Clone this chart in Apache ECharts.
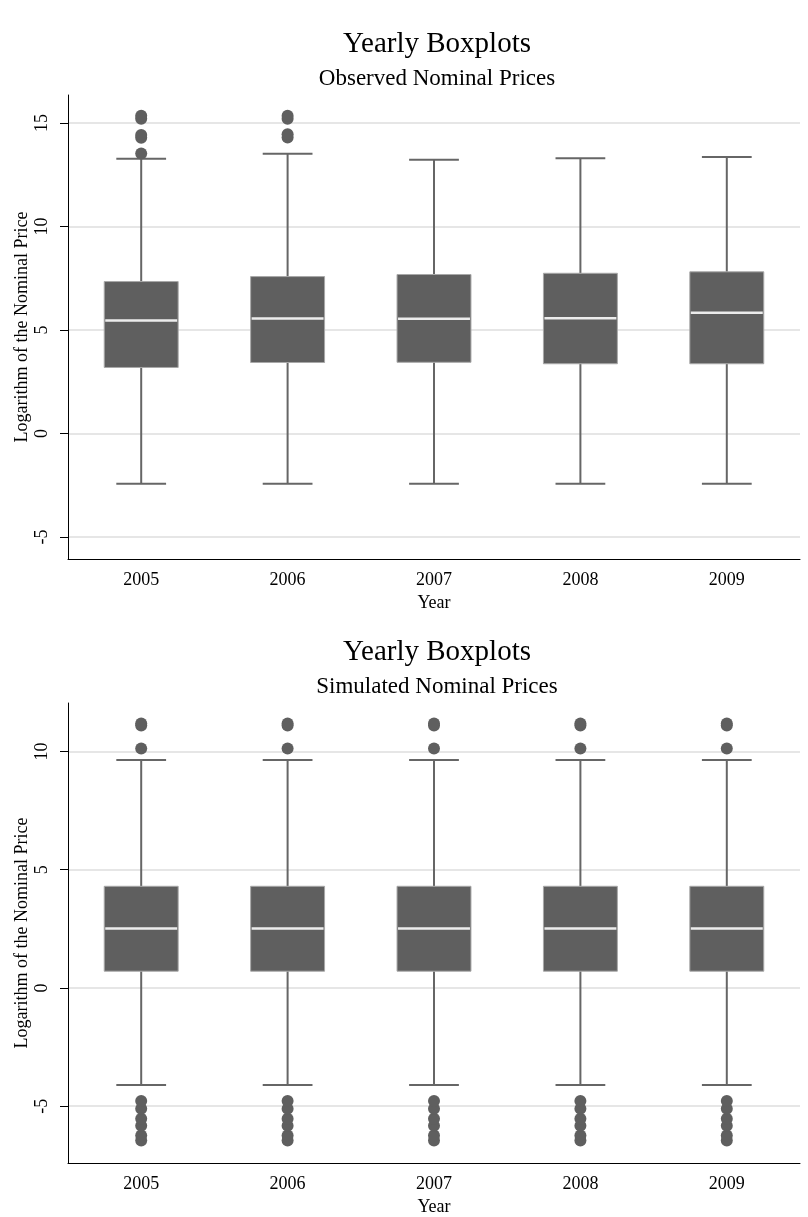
<!DOCTYPE html>
<html>
<head>
<meta charset="utf-8">
<title>Yearly Boxplots</title>
<script src="https://cdn.jsdelivr.net/npm/echarts@6/dist/echarts.min.js"></script>
<style>
  html, body { margin: 0; padding: 0; background: #ffffff; }
  #chart { width: 808px; height: 1217px; }
</style>
</head>
<body>
<div id="chart"></div>
<script>
// Years on the category axis
const years = ['2005', '2006', '2007', '2008', '2009'];
const yTicks = [-5, 0, 5, 10, 15];
const yTicksSim = [-5, 0, 5, 10];

// Observed prices: [lower whisker, Q1, median, Q3, upper whisker] per year
const observedLow    = [-2.42, -2.42, -2.42, -2.42, -2.42];
const observedQ1     = [3.19, 3.43, 3.44, 3.37, 3.37];
const observedMedian = [5.46, 5.56, 5.54, 5.57, 5.83];
const observedQ3     = [7.34, 7.58, 7.68, 7.74, 7.81];
const observedHigh   = [13.27, 13.51, 13.22, 13.29, 13.35];
// Observed outliers, one list per year
const observedOutliers = [
  [13.52, 14.28, 14.42, 15.2, 15.35],
  [14.3, 14.45, 15.2, 15.35],
  [],
  [],
  []
];

// Simulated prices
const simulatedLow    = [-4.1, -4.1, -4.1, -4.1, -4.1];
const simulatedQ1     = [0.71, 0.71, 0.71, 0.71, 0.71];
const simulatedMedian = [2.51, 2.51, 2.51, 2.51, 2.51];
const simulatedQ3     = [4.3, 4.3, 4.3, 4.3, 4.3];
const simulatedHigh   = [9.64, 9.64, 9.64, 9.64, 9.64];
const simulatedOutlierSet = [-6.45, -6.24, -5.82, -5.53, -5.11, -4.78, 10.13, 11.1, 11.18];
const simulatedOutliers = years.map(() => simulatedOutlierSet);

const FONT = "'Liberation Serif', 'Times New Roman', serif";
const BOX = '#5f5f5f';

function boxRows(low, q1, med, q3, high) {
  return years.map((_, i) => [i, low[i], q1[i], med[i], q3[i], high[i]]);
}
function outlierRows(lists) {
  const rows = [];
  lists.forEach((vals, i) => vals.forEach(v => rows.push([i, v])));
  return rows;
}

// Whiskers, box and a light median line drawn through the axis scales
function renderBox(params, api) {
  const c = api.value(0);
  const pLow = api.coord([c, api.value(1)]);
  const pQ1 = api.coord([c, api.value(2)]);
  const pMed = api.coord([c, api.value(3)]);
  const pQ3 = api.coord([c, api.value(4)]);
  const pHigh = api.coord([c, api.value(5)]);
  const band = api.size([1, 0])[0];
  const bw = band * 0.505;
  const cw = band * 0.34;
  const x = pMed[0];
  const line = { stroke: '#666666', lineWidth: 2 };
  return {
    type: 'group',
    children: [
      { type: 'line', shape: { x1: x, y1: pQ3[1], x2: x, y2: pHigh[1] }, style: line },
      { type: 'line', shape: { x1: x, y1: pQ1[1], x2: x, y2: pLow[1] }, style: line },
      { type: 'line', shape: { x1: x - cw / 2, y1: pHigh[1], x2: x + cw / 2, y2: pHigh[1] }, style: line },
      { type: 'line', shape: { x1: x - cw / 2, y1: pLow[1], x2: x + cw / 2, y2: pLow[1] }, style: line },
      { type: 'rect', shape: { x: x - bw / 2, y: pQ3[1], width: bw, height: pQ1[1] - pQ3[1] },
        style: { fill: BOX, stroke: '#a8a8a8', lineWidth: 1 } },
      { type: 'line', shape: { x1: x - bw / 2 + 1, y1: pMed[1], x2: x + bw / 2 - 1, y2: pMed[1] },
        style: { stroke: '#ececec', lineWidth: 2.5 } }
    ]
  };
}

function titles(top, sub) {
  return [
    { text: 'Yearly Boxplots', left: 432, top: top, textAlign: 'center',
      textStyle: { fontFamily: FONT, fontSize: 29, fontWeight: 'normal', color: '#000' } },
    { text: sub, left: 432, top: top + 37, textAlign: 'center',
      textStyle: { fontFamily: FONT, fontSize: 23, fontWeight: 'normal', color: '#000' } }
  ];
}

function xAxis(gridIndex) {
  return {
    type: 'category', gridIndex: gridIndex, data: years,
    name: 'Year', nameLocation: 'middle', nameGap: 35, nameMoveOverlap: false,
    nameTextStyle: { fontFamily: FONT, fontSize: 18, color: '#000' },
    axisLine: { onZero: false, lineStyle: { color: '#000', width: 1 } },
    axisTick: { show: false },
    axisLabel: { fontFamily: FONT, fontSize: 18, color: '#000', margin: 12 },
    splitLine: { show: false }
  };
}

function yAxis(gridIndex, min, max, ticks) {
  return {
    type: 'value', gridIndex: gridIndex, min: min, max: max,
    name: 'Logarithm of the Nominal Price', nameLocation: 'middle', nameGap: 37, nameRotate: 90,
    nameMoveOverlap: false,
    nameTextStyle: { fontFamily: FONT, fontSize: 18, color: '#000' },
    axisLine: { show: true, onZero: false, lineStyle: { color: '#000', width: 1 } },
    axisTick: { show: true, length: 8, customValues: ticks, lineStyle: { color: '#000', width: 1 } },
    axisLabel: { customValues: ticks, rotate: 90, fontFamily: FONT, fontSize: 18, color: '#000', margin: 17 },
    splitLine: { show: true, lineStyle: { color: '#e6e6e6', width: 2 } }
  };
}

const option = {
  backgroundColor: '#ffffff',
  animation: false,
  title: titles(25, 'Observed Nominal Prices').concat(titles(633, 'Simulated Nominal Prices')),
  grid: [
    { left: 68, right: 8, top: 95, height: 464 },
    { left: 68, right: 8, top: 703, height: 464 }
  ],
  xAxis: [xAxis(0), xAxis(1)],
  yAxis: [yAxis(0, -6.06, 16.35, yTicks), yAxis(1, -7.4, 12.05, yTicksSim)],
  series: [
    { type: 'custom', xAxisIndex: 0, yAxisIndex: 0, renderItem: renderBox,
      encode: { x: 0, y: [1, 2, 3, 4, 5] },
      data: boxRows(observedLow, observedQ1, observedMedian, observedQ3, observedHigh) },
    { type: 'scatter', xAxisIndex: 0, yAxisIndex: 0, symbol: 'circle', symbolSize: 12,
      itemStyle: { color: BOX, opacity: 1 }, data: outlierRows(observedOutliers) },
    { type: 'custom', xAxisIndex: 1, yAxisIndex: 1, renderItem: renderBox,
      encode: { x: 0, y: [1, 2, 3, 4, 5] },
      data: boxRows(simulatedLow, simulatedQ1, simulatedMedian, simulatedQ3, simulatedHigh) },
    { type: 'scatter', xAxisIndex: 1, yAxisIndex: 1, symbol: 'circle', symbolSize: 12,
      itemStyle: { color: BOX, opacity: 1 }, data: outlierRows(simulatedOutliers) }
  ]
};

const chart = echarts.init(document.getElementById('chart'), null, { renderer: 'canvas' });
chart.setOption(option);
</script>
</body>
</html>
